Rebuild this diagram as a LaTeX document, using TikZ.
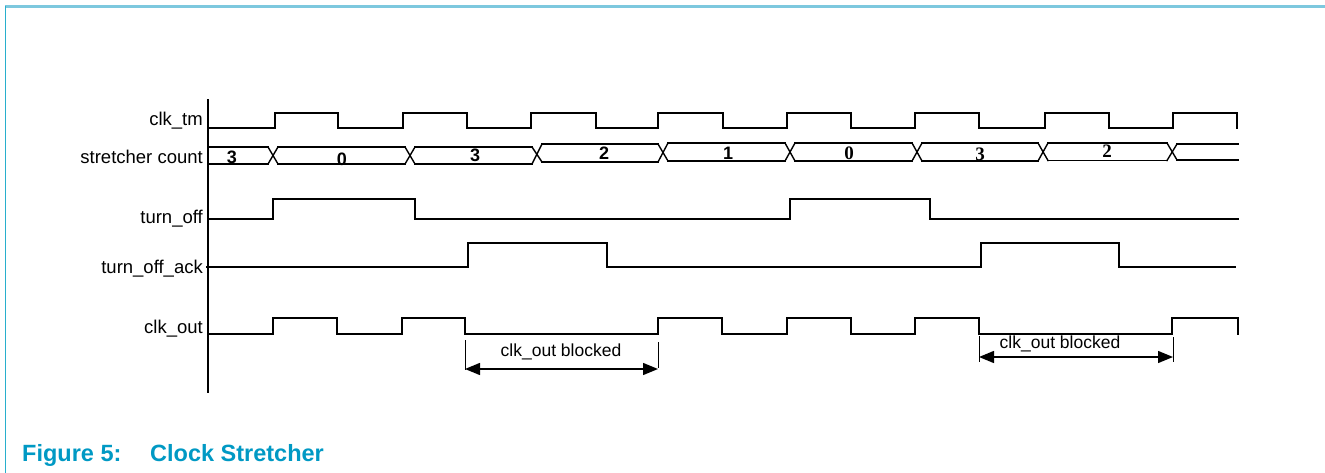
\documentclass[tikz,border=0pt]{standalone}
\usepackage{fontspec}
\setmainfont{Liberation Sans}
\newfontfamily\serifdig{Liberation Serif}
\usetikzlibrary{arrows.meta}
\definecolor{framecyan}{RGB}{40,175,205}
\definecolor{frametop}{RGB}{125,200,222}
\definecolor{captionblue}{RGB}{0,153,196}
\begin{document}
\begin{tikzpicture}[x=1pt,y=-1pt,
  sig/.style={line width=1.4pt, line join=miter, line cap=rect},
  tickline/.style={line width=0.9pt},
  dimline/.style={line width=1.4pt, {Triangle[length=15pt,width=12pt]}-{Triangle[length=15pt,width=12pt]}},
  lbl/.style={anchor=base east, inner sep=0pt, font=\fontsize{18.5}{20}\selectfont},
  sdig/.style={inner sep=0pt, font=\fontsize{18}{20}\selectfont\bfseries},
  rdig/.style={inner sep=0pt, font=\fontsize{19}{20}\selectfont\serifdig\bfseries},
  blk/.style={inner sep=0pt, font=\fontsize{17.5}{19}\selectfont},
  captext/.style={anchor=base west, inner sep=0pt, text=captionblue, font=\fontsize{23.5}{25}\selectfont\bfseries}]
\useasboundingbox (0,0) rectangle (1325,473);
\fill[white] (0,0) rectangle (1325,473);
% frame
\draw[frametop, line width=3pt] (5,7) -- (1325,7);
\draw[framecyan, line width=1pt] (5,6) -- (5,473);
% labels
\node[lbl] (lclk) at (203,126) {clk\_tm};
\node[lbl] (lcnt) at (203,164) {stretcher count};
\node[lbl] (loff) at (203,224) {turn\_off};
\node[lbl] (lack) at (203,273) {turn\_off\_ack};
\node[lbl] (lout) at (203,333) {clk\_out};
% axis
\draw[sig] (208,100) -- (208,392);
% clk_tm
\draw[sig] (210,128) foreach \r/\f in {275/338,403/467,531/596,658/723,787/851,915/979,1045/1109,1173/1237}
  { -- (\r,128) -- (\r,113) -- (\f,113) -- (\f,128) };
% stretcher count bus
\foreach \a/\b/\t/\u in {210/268/147/164,278/405/147/164,415/532/147/164,542/658/144/162,668/785/143/161,795/912/143/161,922/1038/143/161,1048/1167/143/160.5,1177/1238/144/160}
  { \draw[sig] (\a,\t) -- (\b,\t); \draw[sig] (\a,\u) -- (\b,\u); }
\foreach \c/\ta/\ba/\tb/\bb in {273/147/164/147/164,410/147/164/147/164,537/147/164/144/162,663/144/162/143/161,790/143/161/143/161,917/143/161/143/161,1043/143/161/143/160.5,1172/143/160.5/144/160}
  { \draw[sig] (\c-5,\ta) -- (\c+5,\bb); \draw[sig] (\c-5,\ba) -- (\c+5,\tb); }
\node[sdig] (d1) at (232,157) {3};
\node[sdig] (d2) at (342,159) {0};
\node[sdig] (d3) at (475,155) {3};
\node[sdig] (d4) at (604,153) {2};
\node[sdig] (d5) at (728,153) {1};
\node[rdig] (d6) at (849,153) {0};
\node[rdig] (d7) at (980,154) {3};
\node[rdig] (d8) at (1107,151) {2};
% turn_off
\draw[sig] (210,219) -- (273,219) -- (273,199) -- (415,199) -- (415,219) -- (790,219) -- (790,199) -- (930,199) -- (930,219) -- (1238,219);
% turn_off_ack
\draw[sig] (207,267) -- (468,267) -- (468,243) -- (607,243) -- (607,267) -- (981,267) -- (981,243) -- (1119,243) -- (1119,267) -- (1235,267);
% clk_out
\draw[sig] (210,334) foreach \r/\f in {273/337,402/465}
  { -- (\r,334) -- (\r,318) -- (\f,318) -- (\f,334) }
  -- (658,334) foreach \r/\f in {658/722,787/851,915/979}
  { -- (\r,334) -- (\r,318) -- (\f,318) -- (\f,334) }
  -- (1172,334) -- (1172,318) -- (1238,318) -- (1238,334);
% blocked intervals
\coordinate (b1l) at (465,369);
\coordinate (b1r) at (658,369);
\draw[tickline] (465,340) -- (465,370);
\draw[tickline] (658,342) -- (658,368);
\draw[dimline] (b1l) -- (b1r);
\node[blk] (t1) at (561,352) {clk\_out blocked};
\coordinate (b2l) at (979,357);
\coordinate (b2r) at (1173,357);
\draw[tickline] (979,336) -- (979,362);
\draw[tickline] (1173,337) -- (1173,362);
\draw[dimline] (b2l) -- (b2r);
\node[blk] (t2) at (1060,344) {clk\_out blocked};
% caption
\node[captext] (cap1) at (22,461) {Figure 5:};
\node[captext] (cap2) at (150,461) {Clock Stretcher};
\end{tikzpicture}
\end{document}
